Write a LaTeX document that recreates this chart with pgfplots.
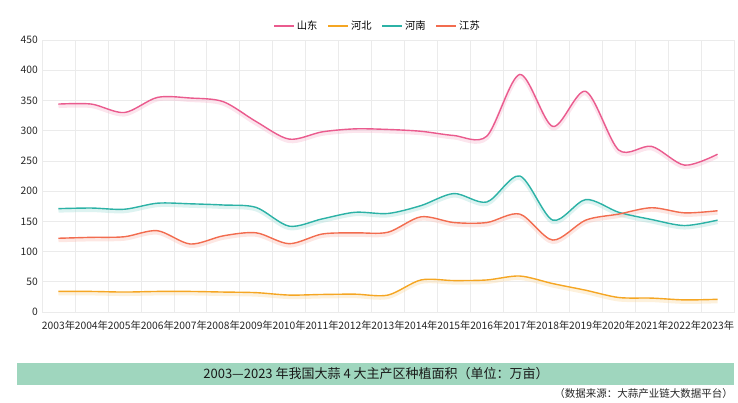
\documentclass[border=0pt]{standalone}
\usepackage{fontspec}
\setmainfont{Noto Sans CJK SC}
\usepackage{pgfplots}
\pgfplotsset{compat=1.18}
\definecolor{cSD}{HTML}{EA5B8E}
\definecolor{cHB}{HTML}{F5A623}
\definecolor{cHN}{HTML}{2CB2A6}
\definecolor{cJS}{HTML}{F26C4F}
\definecolor{band}{HTML}{9FD6BE}
\definecolor{gridc}{HTML}{EBEBEB}
\begin{document}
\begin{tikzpicture}
\useasboundingbox (0,0) rectangle (738pt,403pt);
\begin{axis}[
  at={(42pt,91pt)}, anchor=south west,
  scale only axis, width=692pt, height=272pt,
  xmin=-0.5, xmax=20.5, ymin=0, ymax=450,
  ytick={0,50,...,450},
  xtick={0,...,20},
  xticklabels={2003年,2004年,2005年,2006年,2007年,2008年,2009年,2010年,2011年,2012年,2013年,2014年,2015年,2016年,2017年,2018年,2019年,2020年,2021年,2022年,2023年},
  minor xtick={-0.5,0.5,...,20.5},
  xminorgrids, ymajorgrids,
  grid style={gridc, line width=0.6pt},
  minor grid style={gridc, line width=0.6pt},
  axis line style={gridc, line width=0.6pt},
  major tick length=0pt, minor tick length=0pt,
  tick style={draw=none},
  ticklabel style={font=\fontsize{10.3}{12}\selectfont, text=black!85},
  xticklabel style={inner sep=0pt, yshift=-9pt},
  yticklabel style={inner sep=0pt, xshift=-4pt},
  /pgf/number format/assume math mode=true,
  legend columns=4,
  legend style={draw=none, fill=none, at={(rel axis cs:0.485,1.052)}, anchor=center,
    font=\fontsize{10.3}{12}\selectfont, /tikz/every even column/.append style={column sep=8pt}},
  legend image code/.code={\draw[#1, line width=1.5pt] (0pt,0pt) -- (20pt,0pt);},
  every axis plot/.append style={smooth, tension=0.5, line width=1.4pt},
]
% shadows
\addplot[cSD!40, opacity=0.4, line width=4pt, forget plot, yshift=-2pt] coordinates {(0,344)(1,344)(2,330)(3,355)(4,354)(5,348)(6,315)(7,286)(8,298)(9,303)(10,302)(11,299)(12,292)(13,291)(14,393)(15,307)(16,365)(17,268)(18,274)(19,243)(20,261)};
\addplot[cHB!40, opacity=0.4, line width=4pt, forget plot, yshift=-2pt] coordinates {(0,34)(1,34)(2,33)(3,34)(4,34)(5,33)(6,32)(7,28)(8,29)(9,29.5)(10,28)(11,53)(12,52)(13,53)(14,59.5)(15,47)(16,36)(17,24)(18,23)(19,20)(20,21)};
\addplot[cHN!40, opacity=0.4, line width=4pt, forget plot, yshift=-2pt] coordinates {(0,171)(1,172)(2,170)(3,180)(4,179)(5,177)(6,173)(7,142)(8,154)(9,165)(10,163)(11,176)(12,196)(13,182)(14,225)(15,152)(16,186)(17,165)(18,153)(19,143)(20,152)};
\addplot[cJS!40, opacity=0.4, line width=4pt, forget plot, yshift=-2pt] coordinates {(0,122)(1,123.5)(2,124.5)(3,134.5)(4,112.5)(5,126)(6,131)(7,113)(8,129)(9,131)(10,132)(11,157.5)(12,148)(13,148)(14,162)(15,119)(16,152)(17,162)(18,172.5)(19,164)(20,167.5)};
% lines
\addplot[cSD] coordinates {(0,344)(1,344)(2,330)(3,355)(4,354)(5,348)(6,315)(7,286)(8,298)(9,303)(10,302)(11,299)(12,292)(13,291)(14,393)(15,307)(16,365)(17,268)(18,274)(19,243)(20,261)};
\addlegendentry{山东}
\addplot[cHB] coordinates {(0,34)(1,34)(2,33)(3,34)(4,34)(5,33)(6,32)(7,28)(8,29)(9,29.5)(10,28)(11,53)(12,52)(13,53)(14,59.5)(15,47)(16,36)(17,24)(18,23)(19,20)(20,21)};
\addlegendentry{河北}
\addplot[cHN] coordinates {(0,171)(1,172)(2,170)(3,180)(4,179)(5,177)(6,173)(7,142)(8,154)(9,165)(10,163)(11,176)(12,196)(13,182)(14,225)(15,152)(16,186)(17,165)(18,153)(19,143)(20,152)};
\addlegendentry{河南}
\addplot[cJS] coordinates {(0,122)(1,123.5)(2,124.5)(3,134.5)(4,112.5)(5,126)(6,131)(7,113)(8,129)(9,131)(10,132)(11,157.5)(12,148)(13,148)(14,162)(15,119)(16,152)(17,162)(18,172.5)(19,164)(20,167.5)};
\addlegendentry{江苏}
\end{axis}
\fill[band] (17pt,18pt) rectangle (734pt,40pt);
\node[font=\fontsize{13}{15}\selectfont, text=black!90, inner sep=0pt] at (376pt,29pt) {2003—2023 年我国大蒜 4 大主产区种植面积（单位：万亩）};
\node[font=\fontsize{10.5}{12}\selectfont, text=black!85, inner sep=0pt, anchor=east] at (733pt,9pt) {（数据来源：大蒜产业链大数据平台）};
\end{tikzpicture}
\end{document}
